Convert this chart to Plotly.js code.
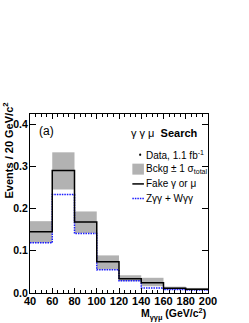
<!DOCTYPE html>
<html>
<head>
<meta charset="utf-8">
<script src="https://cdn.plot.ly/plotly-3.0.1.min.js"></script>
<style>html,body{margin:0;padding:0;background:#fff;}#chart{width:249px;height:323px;}</style>
</head>
<body>
<div id="chart"></div>
<script>
var binEdges = [40, 60, 80, 100, 120, 140, 160, 180, 200];
var binCenters = [50, 70, 90, 110, 130, 150, 170, 190];
var fakeTotal = [0.145, 0.290, 0.168, 0.074, 0.034, 0.024, 0.011, 0.009];
var zggWgg = [0.119, 0.233, 0.141, 0.055, 0.029, 0.012, 0.008, 0.007];
var bandLow = [0.119, 0.245, 0.142, 0.056, 0.028, 0.016, 0.008, 0.007];
var bandHigh = [0.170, 0.333, 0.193, 0.089, 0.042, 0.036, 0.015, 0.012];
var xTickVals = [40, 60, 80, 100, 120, 140, 160, 180, 200];
var yTickVals = [0.0, 0.1, 0.2, 0.3, 0.4];

function stepY(v) { return v.concat([v[v.length - 1]]); }

var bandHeights = bandHigh.map(function (h, i) { return h - bandLow[i]; });

var traces = [
  {
    type: 'bar', x: binCenters, y: bandHeights, base: bandLow, width: 20,
    marker: {color: '#b2b2b2', line: {width: 0}}, showlegend: false, hoverinfo: 'skip'
  },
  {
    type: 'scatter', mode: 'lines', x: binEdges, y: stepY(zggWgg),
    line: {shape: 'hv', color: '#1a1aff', width: 1.5, dash: '1.5px,1px'}, showlegend: false
  },
  {
    type: 'scatter', mode: 'lines', x: binEdges, y: stepY(fakeTotal),
    line: {shape: 'hv', color: '#000000', width: 1.5}, showlegend: false
  }
];

var fontFam = 'Liberation Sans, Arial, Helvetica, sans-serif';
var lx = 0.575; // legend glyph left (paper)
var lw = 0.065;
var tx = 0.643;
function py(pix) { return (293.5 - pix) / (293.5 - 114.3); }

var layout = {
  width: 249, height: 323,
  margin: {l: 30, r: 41.4, t: 114.3, b: 29.5, pad: 0},
  paper_bgcolor: '#ffffff', plot_bgcolor: '#ffffff',
  barmode: 'overlay',
  font: {family: fontFam, color: '#000'},
  xaxis: {
    range: [40, 200], tickvals: xTickVals, ticks: 'inside', ticklen: 5, tickwidth: 1, tickcolor: '#000',
    showline: true, linecolor: '#000', linewidth: 1, mirror: 'ticks', showgrid: false, zeroline: false,
    tickfont: {size: 11, weight: 'bold', family: fontFam}, ticklabelstandoff: -2,
    minor: {dtick: 5, ticks: 'inside', ticklen: 3, tickcolor: '#000', tickwidth: 1, showgrid: false}
  },
  yaxis: {
    range: [0, 0.4237], tickvals: yTickVals, tickformat: '.1f', ticks: 'inside', ticklen: 6, tickwidth: 1, tickcolor: '#000',
    showline: true, linecolor: '#000', linewidth: 1, mirror: 'ticks', showgrid: false, zeroline: false,
    tickfont: {size: 10.5, weight: 'bold', family: fontFam}, ticklabelstandoff: -1
  },
  shapes: [
    {type: 'rect', xref: 'paper', yref: 'paper', x0: lx, x1: lx + lw, y0: py(175), y1: py(164), fillcolor: '#b2b2b2', line: {width: 0}},
    {type: 'line', xref: 'paper', yref: 'paper', x0: lx, x1: lx + lw, y0: py(184.3), y1: py(184.3), line: {color: '#000', width: 1.5}},
    {type: 'line', xref: 'paper', yref: 'paper', x0: lx, x1: lx + lw, y0: py(199), y1: py(199), line: {color: '#1a1aff', width: 1.5, dash: '1.5px,1px'}},
    {type: 'circle', xref: 'paper', yref: 'paper', x0: 0.613, x1: 0.625, y0: py(156.2), y1: py(153.8), fillcolor: '#000', line: {width: 0}}
  ],
  annotations: [
    {xref: 'paper', yref: 'paper', x: 0.04, y: py(131), xanchor: 'left', yanchor: 'middle', showarrow: false,
     text: '(a)', font: {size: 12, family: fontFam}},
    {xref: 'paper', yref: 'paper', x: 0.955, y: py(133), xanchor: 'right', yanchor: 'middle', showarrow: false,
     text: 'γ γ μ  <b>Search</b>', font: {size: 11, family: fontFam}},
    {xref: 'paper', yref: 'paper', x: tx, y: py(155), xanchor: 'left', yanchor: 'middle', showarrow: false,
     text: 'Data, 1.1 fb<sup>-1</sup>', font: {size: 10, family: fontFam}},
    {xref: 'paper', yref: 'paper', x: tx, y: py(169.5), xanchor: 'left', yanchor: 'middle', showarrow: false,
     text: 'Bckg ± 1 σ<sub>total</sub>', font: {size: 10, family: fontFam}},
    {xref: 'paper', yref: 'paper', x: tx, y: py(184.3), xanchor: 'left', yanchor: 'middle', showarrow: false,
     text: 'Fake γ or μ', font: {size: 10, family: fontFam}},
    {xref: 'paper', yref: 'paper', x: tx, y: py(199), xanchor: 'left', yanchor: 'middle', showarrow: false,
     text: 'Zγγ + Wγγ', font: {size: 10, family: fontFam}},
    {xref: 'paper', yref: 'paper', x: 1.0, y: py(314.5), xanchor: 'right', yanchor: 'middle', showarrow: false,
     text: '<b>M<sub>γγμ</sub> (GeV/c<sup>2</sup>)</b>', font: {size: 10.5, family: fontFam}},
    {xref: 'paper', yref: 'paper', x: -0.125, y: py(101), xanchor: 'center', yanchor: 'top', showarrow: false, textangle: -90,
     text: '<b>Events / 20 GeV/c<sup>2</sup></b>', font: {size: 11, family: fontFam}}
  ]
};

Plotly.newPlot('chart', traces, layout, {staticPlot: true, displayModeBar: false});
</script>
</body>
</html>
